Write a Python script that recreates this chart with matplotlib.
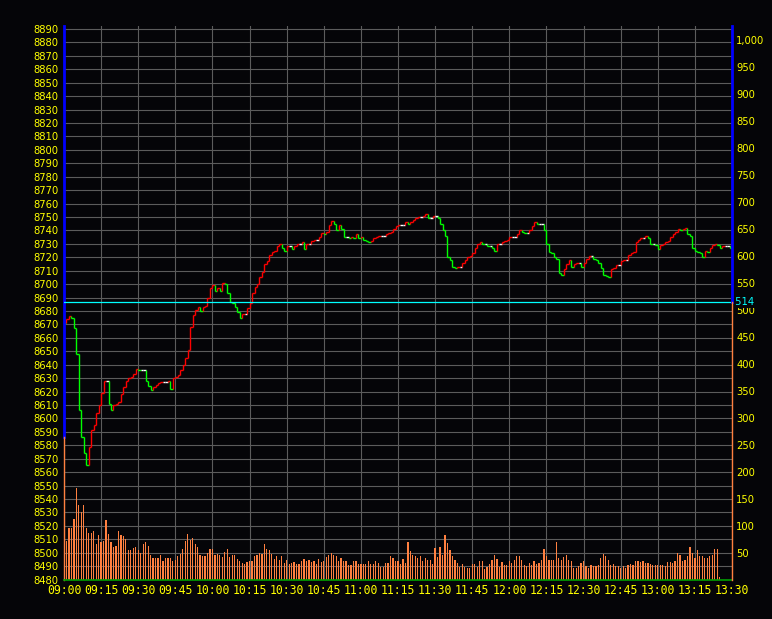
import numpy as np
import matplotlib
matplotlib.use("Agg")
import matplotlib.pyplot as plt
import matplotlib.font_manager as fm
import matplotlib.transforms as mtransforms
from matplotlib.collections import LineCollection
from matplotlib.lines import Line2D

# ---------------- data ----------------
open_price = 8680
close_prices = [
    8671, 8674, 8676, 8675, 8667, 8648, 8606, 8586, 8574, 8565,
    8579, 8591, 8595, 8604, 8610, 8619, 8628, 8628, 8611, 8606,
    8610, 8611, 8612, 8618, 8623, 8628, 8630, 8631, 8633, 8637,
    8636, 8636, 8636, 8628, 8624, 8621, 8623, 8625, 8626, 8627,
    8627, 8627, 8628, 8622, 8630, 8631, 8632, 8636, 8640, 8645,
    8651, 8668, 8677, 8681, 8683, 8680, 8683, 8684, 8690, 8697,
    8699, 8695, 8697, 8695, 8701, 8700, 8693, 8687, 8686, 8683,
    8679, 8675, 8678, 8678, 8682, 8686, 8693, 8698, 8700, 8705,
    8709, 8715, 8717, 8722, 8724, 8725, 8728, 8730, 8727, 8725,
    8728, 8728, 8726, 8728, 8730, 8730, 8731, 8726, 8730, 8730,
    8732, 8733, 8733, 8735, 8738, 8737, 8739, 8744, 8747, 8745,
    8740, 8744, 8741, 8735, 8735, 8734, 8735, 8734, 8737, 8734,
    8735, 8733, 8732, 8731, 8732, 8734, 8735, 8736, 8736, 8736,
    8737, 8738, 8739, 8741, 8743, 8744, 8744, 8744, 8746, 8745,
    8746, 8748, 8749, 8750, 8750, 8751, 8752, 8749, 8749, 8751,
    8751, 8749, 8745, 8740, 8736, 8720, 8718, 8713, 8712, 8713,
    8713, 8716, 8718, 8720, 8721, 8723, 8727, 8730, 8731, 8730,
    8730, 8728, 8728, 8727, 8725, 8730, 8730, 8731, 8732, 8733,
    8735, 8735, 8735, 8737, 8740, 8739, 8738, 8738, 8740, 8743,
    8746, 8745, 8745, 8745, 8740, 8730, 8724, 8723, 8720, 8719,
    8708, 8707, 8711, 8715, 8718, 8713, 8715, 8716, 8716, 8713,
    8716, 8719, 8721, 8721, 8719, 8718, 8716, 8712, 8707, 8706,
    8705, 8711, 8712, 8714, 8714, 8717, 8718, 8718, 8722, 8723,
    8724, 8731, 8733, 8734, 8734, 8736, 8734, 8730, 8730, 8729,
    8726, 8729, 8730, 8731, 8732, 8735, 8737, 8739, 8741, 8740,
    8741, 8742, 8737, 8736, 8727, 8725, 8724, 8723, 8720, 8725,
    8724, 8727, 8729, 8730, 8729, 8727, 8728, 8728, 8728, 8727,
]

volumes = [
    72, 96, 96, 113, 170, 139, 126, 139, 96, 87,
    86, 89, 66, 82, 69, 72, 111, 84, 70, 60,
    63, 89, 82, 80, 75, 54, 55, 59, 61, 55,
    49, 65, 69, 63, 45, 40, 39, 40, 46, 35,
    40, 39, 39, 35, 37, 43, 48, 56, 72, 84,
    74, 77, 65, 61, 45, 44, 43, 49, 57, 57,
    45, 48, 46, 41, 51, 56, 41, 45, 45, 38,
    35, 31, 29, 32, 35, 35, 44, 46, 49, 48,
    65, 56, 54, 48, 38, 43, 37, 43, 30, 37,
    28, 30, 32, 29, 29, 35, 38, 34, 36, 33,
    35, 28, 38, 33, 35, 41, 46, 50, 46, 43,
    35, 40, 34, 34, 26, 26, 34, 35, 29, 28,
    28, 28, 34, 29, 29, 35, 30, 24, 23, 30,
    30, 43, 40, 35, 35, 28, 38, 30, 69, 52,
    45, 43, 40, 43, 34, 40, 37, 37, 29, 58,
    41, 61, 46, 83, 67, 55, 43, 37, 30, 24,
    29, 24, 22, 22, 29, 28, 23, 35, 34, 20,
    24, 28, 36, 46, 38, 24,
    32, 27, 27, 34, 31, 36, 43, 43, 37, 27,
    25, 30, 27, 34, 28, 31, 37, 56, 43, 37,
    36, 36, 70, 40, 37, 42, 45, 37, 34, 22,
    22, 25, 30, 34, 25, 22, 27, 25, 25, 27,
    40, 48, 43, 37, 27, 28, 25, 25, 22, 25,
    22, 27, 28, 27, 34, 34, 32, 34, 30, 30,
    28, 27, 27, 27, 27, 27, 25, 32, 32, 30,
    34, 49, 46, 34, 37, 43, 61, 49, 40, 54,
    43, 43, 40, 40, 43, 45, 56, 57, 4,
]

time_labels = ["09:00", "09:15", "09:30", "09:45", "10:00", "10:15", "10:30",
               "10:45", "11:00", "11:15", "11:30", "11:45", "12:00", "12:15",
               "12:30", "12:45", "13:00", "13:15", "13:30"]
price_ticks = list(range(8480, 8891, 10))
volume_ticks = list(range(50, 1001, 50))
ref_level = 514

# ---------------- style ----------------
BG = "#050508"
GRID = "#5c5c5c"
YEL = "#ffff00"
names = {f.name for f in fm.fontManager.ttflist}
if "Liberation Sans Narrow" in names:
    lab_font = fm.FontProperties(family="Liberation Sans Narrow", size=9.3)
else:
    lab_font = fm.FontProperties(family="DejaVu Sans", stretch="condensed", size=8.0)

fig = plt.figure(figsize=(7.72, 6.19), dpi=100, facecolor=BG)
W, H = 772, 619
x0, x1, ytop, ybot = 64, 732, 26, 579.5
ax = fig.add_axes([x0 / W, 1 - ybot / H, (x1 - x0) / W, (ybot - ytop) / H])
ax.set_facecolor(BG)
ax.set_xlim(0, 270)
ax.set_ylim(8480, 8892.2)

ax2 = ax.twinx()
ax2.set_ylim(0, 1025.9)
ax2.patch.set_visible(False)

for a in (ax, ax2):
    for s in a.spines.values():
        s.set_visible(False)

# grid and ticks
ax.set_yticks(price_ticks)
ax.set_yticklabels([str(p) for p in price_ticks], fontproperties=lab_font, color=YEL)
ax.set_xticks(range(0, 271, 15))
ax.set_xticklabels(time_labels, fontfamily="DejaVu Sans Mono", fontsize=8.3, color=YEL)
ax.tick_params(axis="y", length=0, pad=4)
ax.tick_params(axis="x", length=0, pad=3.5)
ax.grid(True, color=GRID, lw=0.8, zorder=0)
ax.set_axisbelow(True)

ax2.set_yticks(volume_ticks)
ax2.set_yticklabels([f"{v:,}" for v in volume_ticks], fontproperties=lab_font, color=YEL)
ax2.tick_params(axis="y", length=0, pad=3)

# volume bars
vol_x = np.arange(1, len(volumes) + 1)
ax2.bar(vol_x, volumes, width=0.5, color="#ff8040", linewidth=0, zorder=2)
ax2.axhline(0, color="#00a000", lw=1.2, zorder=3, clip_on=False)

# price step line
closes = np.array(close_prices, dtype=float)
opens = np.concatenate([[open_price], closes[:-1]])
segs, cols = [], []
for i in range(len(closes)):
    o, c = opens[i], closes[i]
    col = "#ff0000" if c > o else ("#00ff00" if c < o else "#ffffff")
    segs.append([(i, o), (i, c)])
    cols.append(col)
    segs.append([(i, c), (i + 1, c)])
    cols.append(col)
lc = LineCollection(segs, colors=cols, linewidths=1.0, zorder=4, capstyle="butt")
ax.add_collection(lc)

# reference line
ax2.axhline(ref_level, color="#00ffff", lw=0.9, zorder=5)
tr = mtransforms.blended_transform_factory(ax2.transAxes, ax2.transData)
ax2.text(1.0, ref_level, " " + str(ref_level), transform=tr, color="#00ffff",
         fontproperties=lab_font, ha="left", va="center",
         bbox=dict(facecolor=BG, edgecolor="none", pad=0.8), zorder=6, clip_on=False)

# custom spines
ref_frac = ref_level / 1025.9
left_split = (8586 - 8480) / (8892.2 - 8480)
ax.add_line(Line2D([0, 0], [left_split, 1], transform=ax.transAxes, color="#0000ff", lw=2.0, clip_on=False, zorder=7))
ax.add_line(Line2D([0, 0], [0, left_split], transform=ax.transAxes, color="#ff8040", lw=1.0, clip_on=False, zorder=7))
ax2.add_line(Line2D([1, 1], [ref_frac, 1], transform=ax2.transAxes, color="#0000ff", lw=2.0, clip_on=False, zorder=7))
ax2.add_line(Line2D([1, 1], [0, ref_frac], transform=ax2.transAxes, color="#ff8040", lw=1.0, clip_on=False, zorder=7))

fig.savefig("out.png", dpi=100, facecolor=BG)
